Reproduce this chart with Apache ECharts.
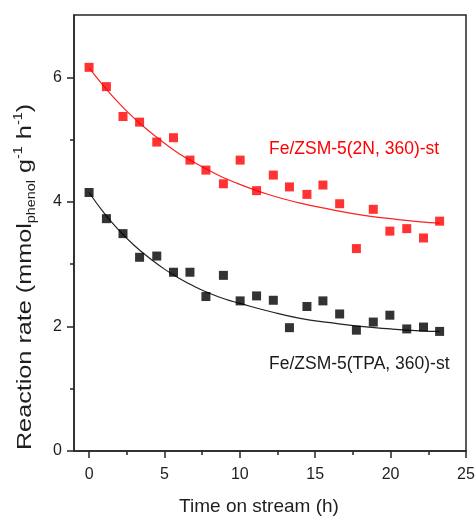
<!DOCTYPE html>
<html>
<head>
<meta charset="utf-8">
<script src="https://cdn.jsdelivr.net/npm/echarts@6/dist/echarts.min.js"></script>
<style>
html,body{margin:0;padding:0;background:#fff;}
#chart{width:476px;height:516px;}
</style>
</head>
<body>
<div id="chart"></div>
<script>
// Time on stream (h)
var timeH = [0, 1.15, 2.25, 3.35, 4.49, 5.6, 6.69, 7.75, 8.91, 10.02, 11.11, 12.22, 13.29, 14.45, 15.51, 16.62, 17.73, 18.85, 19.95, 21.07, 22.18, 23.25];
// Fe/ZSM-5(2N, 360)-st measured rates
var rate2N = [6.16, 5.85, 5.37, 5.28, 4.96, 5.03, 4.67, 4.51, 4.29, 4.67, 4.18, 4.43, 4.24, 4.12, 4.27, 3.97, 3.25, 3.88, 3.53, 3.57, 3.42, 3.69];
// Fe/ZSM-5(TPA, 360)-st measured rates
var rateTPA = [4.15, 3.73, 3.49, 3.11, 3.13, 2.87, 2.87, 2.48, 2.82, 2.41, 2.49, 2.42, 1.98, 2.32, 2.41, 2.20, 1.94, 2.07, 2.18, 1.96, 1.99, 1.92];
// fitted curves
var fitTime = [0, 1, 2, 3, 4, 5, 6, 7, 8, 9, 10, 12, 14, 16, 18, 20, 22, 23.25];
var fit2N = [6.15, 5.85, 5.58, 5.34, 5.13, 4.94, 4.77, 4.63, 4.50, 4.38, 4.28, 4.11, 3.98, 3.88, 3.79, 3.73, 3.68, 3.66];
var fitTPA = [4.15, 3.82, 3.54, 3.30, 3.10, 2.92, 2.77, 2.64, 2.53, 2.44, 2.37, 2.24, 2.13, 2.06, 2.00, 1.96, 1.93, 1.92];
// ticks
var xMajorTicks = [0, 5, 10, 15, 20, 25];
var xMinorTicks = [2.5, 7.5, 12.5, 17.5, 22.5];
var yMajorTicks = [0, 2, 4, 6];
var yMinorTicks = [1, 3, 5];
var label2N = 'Fe/ZSM-5(2N, 360)-st';
var labelTPA = 'Fe/ZSM-5(TPA, 360)-st';
var xTitle = 'Time on stream (h)';
var yTitle = '{n|Reaction rate (mmol}{sub|phenol}{n| g}{sup|-1}{n| h}{sup|-1}{n|)}';

function zip(a, b) { return a.map(function (v, i) { return [v, b[i]]; }); }

var FONT = "'Liberation Sans', Arial, sans-serif";
var AX = '#262626';
var TXT = '#1e1e1e';

var chart = echarts.init(document.getElementById('chart'), null, { renderer: 'canvas' });
chart.setOption({
  animation: false,
  backgroundColor: '#fff',
  grid: { left: 74, right: 10, top: 15, bottom: 65, containLabel: false, outerBoundsMode: 'none', show: true, borderColor: AX, borderWidth: 1.5, backgroundColor: 'transparent' },
  xAxis: [{
    type: 'value', min: -1, max: 25, position: 'bottom',
    axisLine: { show: true, onZero: false, lineStyle: { color: AX, width: 1.5 } },
    axisTick: { show: true, customValues: xMajorTicks, length: 7, inside: false, lineStyle: { color: AX, width: 1.5 } },
    axisLabel: { show: true, customValues: xMajorTicks, margin: 16, color: TXT, fontSize: 16, fontFamily: FONT },
    splitLine: { show: false },
    name: xTitle, nameLocation: 'middle', nameGap: 46,
    nameTextStyle: { fontSize: 19, color: TXT, fontFamily: FONT, padding: [0, 22, 0, 0] }
  }, {
    type: 'value', min: -1, max: 25, position: 'bottom',
    axisLine: { show: false, onZero: false },
    axisTick: { show: true, customValues: xMinorTicks, length: 4, inside: false, lineStyle: { color: AX, width: 1.5 } },
    axisLabel: { show: false },
    splitLine: { show: false }
  }],
  yAxis: [{
    type: 'value', min: 0, max: 7, position: 'left',
    axisLine: { show: true, onZero: false, lineStyle: { color: AX, width: 1.5 } },
    axisTick: { show: true, customValues: yMajorTicks, length: 7, inside: false, lineStyle: { color: AX, width: 1.5 } },
    axisLabel: { show: true, customValues: yMajorTicks, margin: 12, color: TXT, fontSize: 16, fontFamily: FONT },
    splitLine: { show: false }
  }, {
    type: 'value', min: 0, max: 7, position: 'left',
    axisLine: { show: false, onZero: false },
    axisTick: { show: true, customValues: yMinorTicks, length: 4, inside: false, lineStyle: { color: AX, width: 1.5 } },
    axisLabel: { show: false },
    splitLine: { show: false }
  }],
  graphic: [
    {
      type: 'text', x: 25, y: 277, rotation: Math.PI / 2, scaleX: 1.2, scaleY: 1,
      style: {
        text: yTitle, align: 'center', verticalAlign: 'middle', fill: TXT,
        rich: {
          n: { fontSize: 21, fill: TXT, fontFamily: FONT, lineHeight: 32, verticalAlign: 'middle' },
          sub: { fontSize: 12, fill: TXT, fontFamily: FONT, lineHeight: 32, verticalAlign: 'bottom', padding: [0, 0, 3, 0] },
          sup: { fontSize: 12, fill: TXT, fontFamily: FONT, lineHeight: 32, verticalAlign: 'top', padding: [4, 0, 0, 0] }
        }
      }
    },
    { type: 'text', left: 269, top: 140, style: { text: label2N, fill: '#ff0000', font: '17.5px ' + FONT } },
    { type: 'text', left: 269, top: 355, style: { text: labelTPA, fill: '#1a1a1a', font: '17.5px ' + FONT } }
  ],
  series: [
    { type: 'line', xAxisIndex: 0, yAxisIndex: 0, data: zip(fitTime, fit2N), smooth: true, showSymbol: false, lineStyle: { color: '#ff2020', width: 1.2 }, z: 2 },
    { type: 'line', xAxisIndex: 0, yAxisIndex: 0, data: zip(fitTime, fitTPA), smooth: true, showSymbol: false, lineStyle: { color: '#222', width: 1.2 }, z: 2 },
    { type: 'scatter', xAxisIndex: 0, yAxisIndex: 0, data: zip(timeH, rate2N), symbol: 'rect', symbolSize: 9, itemStyle: { color: '#ff0000' }, z: 3 },
    { type: 'scatter', xAxisIndex: 0, yAxisIndex: 0, data: zip(timeH, rateTPA), symbol: 'rect', symbolSize: 9, itemStyle: { color: '#000' }, z: 3 }
  ]
});
</script>
</body>
</html>
